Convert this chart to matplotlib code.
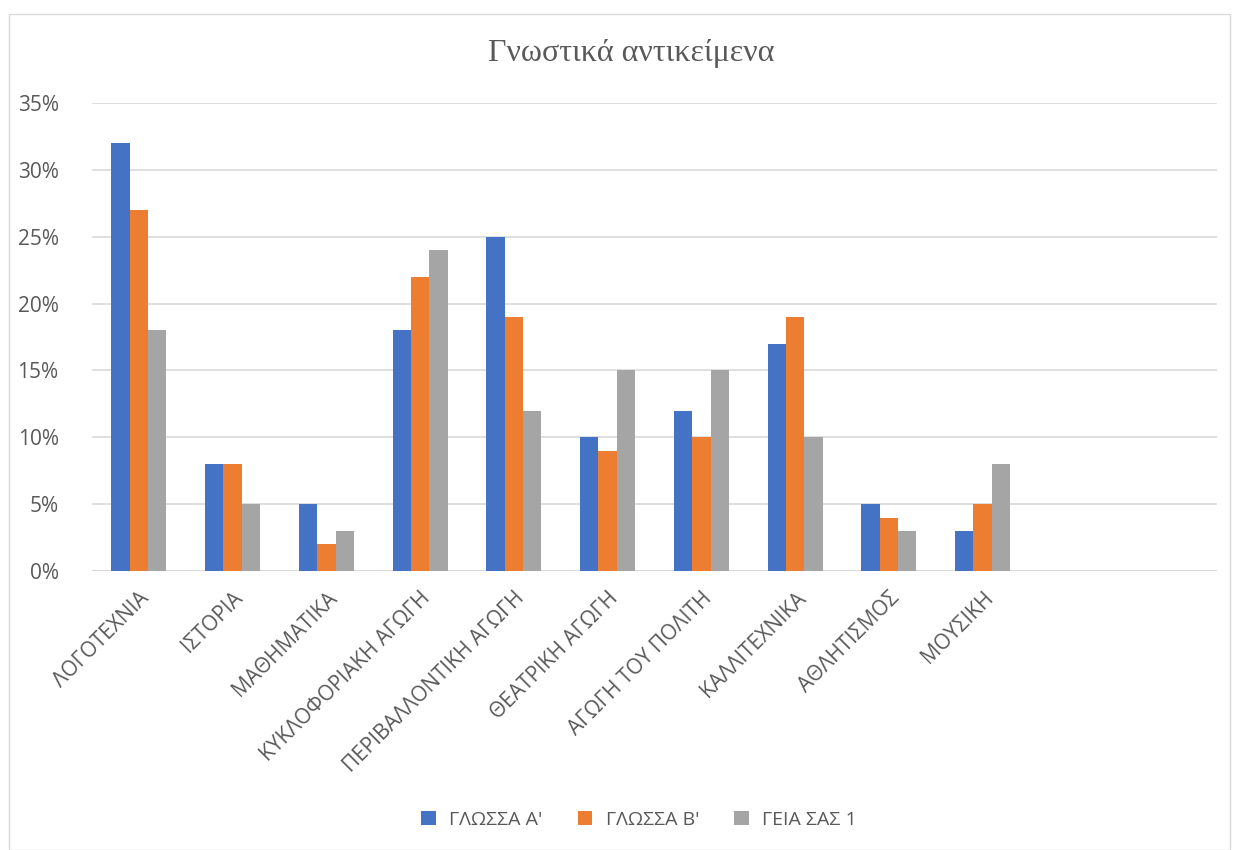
import numpy as np
import matplotlib.pyplot as plt
from matplotlib.patches import Rectangle

categories = ['ΛΟΓΟΤΕΧΝΙΑ', 'ΙΣΤΟΡΙΑ', 'ΜΑΘΗΜΑΤΙΚΑ', 'ΚΥΚΛΟΦΟΡΙΑΚΗ ΑΓΩΓΗ',
              'ΠΕΡΙΒΑΛΛΟΝΤΙΚΗ ΑΓΩΓΗ', 'ΘΕΑΤΡΙΚΗ ΑΓΩΓΗ', 'ΑΓΩΓΗ ΤΟΥ ΠΟΛΙΤΗ',
              'ΚΑΛΛΙΤΕΧΝΙΚΑ', 'ΑΘΛΗΤΙΣΜΟΣ', 'ΜΟΥΣΙΚΗ', '', '']
glossa_a = [0.32, 0.08, 0.05, 0.18, 0.25, 0.10, 0.12, 0.17, 0.05, 0.03, np.nan, np.nan]
glossa_b = [0.27, 0.08, 0.02, 0.22, 0.19, 0.09, 0.10, 0.19, 0.04, 0.05, np.nan, np.nan]
geia_sas = [0.18, 0.05, 0.03, 0.24, 0.12, 0.15, 0.15, 0.10, 0.03, 0.08, np.nan, np.nan]
series_names = ["ΓΛΩΣΣΑ Α'", "ΓΛΩΣΣΑ Β'", "ΓΕΙΑ ΣΑΣ 1"]
colors = ['#4472C4', '#ED7D31', '#A5A5A5']

plt.rcParams['font.family'] = ['Open Sans', 'DejaVu Sans']
txt = '#595959'

fig = plt.figure(figsize=(12.34, 8.5), dpi=100)
fig.patches.append(Rectangle((9/1234, 0), 1221/1234, 836/850, transform=fig.transFigure,
                             fill=False, edgecolor='#d9d9d9', linewidth=1))
ax = fig.add_axes([92/1234, 279/850, 1125/1234, 468/850])

x = np.arange(len(categories))
w = 0.195
for i, (vals, name) in enumerate(zip([glossa_a, glossa_b, geia_sas], series_names)):
    ax.bar(x + (i - 1) * w, vals, w, color=colors[i], label=name, zorder=3)

ax.set_xlim(-0.5, len(categories) - 0.5)
ax.set_ylim(0, 0.35)
ax.set_yticks(np.arange(0, 0.351, 0.05))
ax.set_yticklabels([f'{int(round(v*100))}%' for v in np.arange(0, 0.351, 0.05)])
ax.yaxis.grid(True, color='#d9d9d9', linewidth=1.2, zorder=0)
for s in ['top', 'right', 'left', 'bottom']:
    ax.spines[s].set_visible(False)
ax.axhline(0, color='#d9d9d9', linewidth=1.2, zorder=2)
ax.tick_params(length=0, colors=txt, labelsize=15)
ax.tick_params(axis='y', pad=24)
ax.set_xticks(x)
ax.set_xticklabels(categories, rotation=45, ha='right', rotation_mode='anchor')
ax.tick_params(axis='x', pad=12)

fig.text(631/1234, 1 - 53/850, 'Γνωστικά αντικείμενα', ha='center', va='center',
         fontsize=23, color=txt, family=['Liberation Serif', 'DejaVu Serif'])

fig.legend(loc='center', bbox_to_anchor=(639/1234, 1 - 820/850), ncol=3, frameon=False,
           fontsize=14, labelcolor=txt, handlelength=0.75, handleheight=0.75,
           handletextpad=0.7, columnspacing=1.8)

fig.savefig('out.png', dpi=100)
